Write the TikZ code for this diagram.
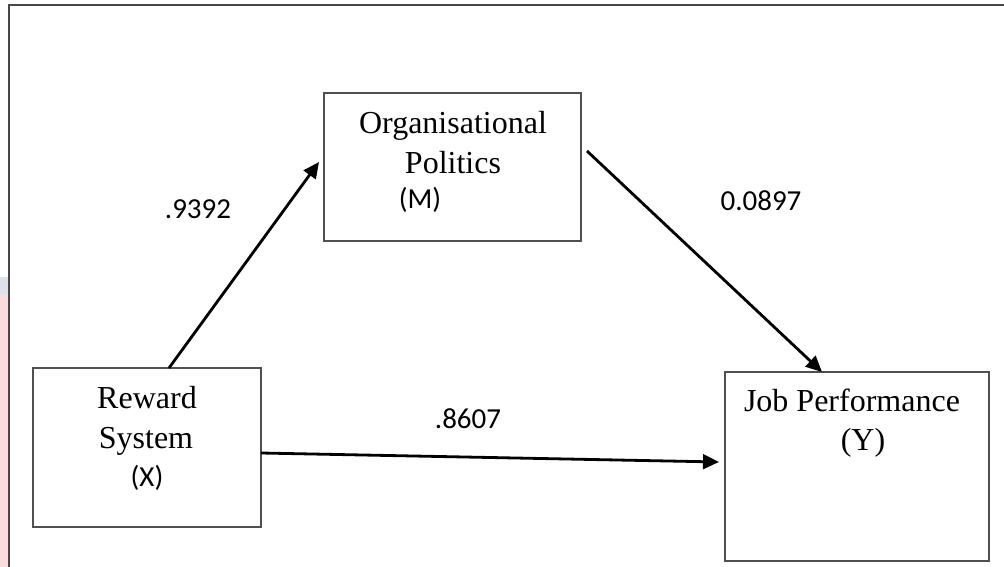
\documentclass[tikz,border=0pt]{standalone}
\usepackage{fontspec}
\setmainfont{Liberation Serif}
\newfontfamily\calibfont{Carlito}
\usetikzlibrary{arrows.meta,calc}
\definecolor{boxgray}{HTML}{505050}
\definecolor{framegray}{HTML}{474747}
\definecolor{pinkstrip}{HTML}{F9DCDC}
\definecolor{bluestrip}{HTML}{DDE1EA}
\tikzset{
  box/.style={draw=boxgray, line width=1.5pt, inner sep=0pt, outer sep=0pt, rectangle},
  serif/.style={font=\fontsize{24}{28}\selectfont, inner sep=0pt, anchor=base},
  sans/.style={font=\calibfont\fontsize{21.75}{26}\selectfont, inner sep=0pt, anchor=base},
  arr/.style={line width=2.1pt, -{Triangle[length=12pt,width=11pt]}}
}
\begin{document}
\begin{tikzpicture}[x=0.75pt,y=-0.75pt]
\useasboundingbox (0,0) rectangle (1004,567);
\fill[white] (0,0) rectangle (1004,567);
% side strips
\fill[bluestrip] (0,277) rectangle (8,295);
\fill[pinkstrip] (0,295) rectangle (8,567);
% outer frame (open to right and bottom)
\begin{scope}
\clip (0,0) rectangle (1004,567);
\draw[framegray, line width=1.8pt] (9,600) -- (9,5) -- (1010,5);
\end{scope}
% boxes
\node[box, minimum width=171pt, minimum height=119.25pt] (rs) at (147,447.5) {};
\node[box, minimum width=192.75pt, minimum height=111pt] (op) at (452.5,167) {};
\node[box, minimum width=198pt, minimum height=141.75pt] (jp) at (857,466.5) {};
% texts
\node[serif] (rs1) at (147,408) {Reward};
\node[serif] (rs2) at (146,448) {System};
\node[sans] (rs3) at (147,486) {(X)};
\node[serif] (op1) at (453,133) {Organisational};
\node[serif] (op2) at (453,173) {Politics};
\node[sans] (op3) at (420,209) {(M)};
\node[serif] (jp1) at (852,411) {Job Performance};
\node[serif] (jp2) at (863,450) {(Y)};
% coefficients
\node[sans] (c1) at (198,218) {.9392};
\node[sans] (c2) at (761,210) {0.0897};
\node[sans] (c3) at (468,428) {.8607};
% connectors
\draw[arr] ($(rs.north west)+(136,0)$) -- ($(op.west)+(-5,-5)$);
\draw[arr] ($(op.east)+(6,-16)$) -- ($(jp.north)+(-35,0)$);
\draw[arr] ($(rs.east)+(0,5.5)$) -- ($(jp.west)+(-6,-4.5)$);
\end{tikzpicture}
\end{document}
